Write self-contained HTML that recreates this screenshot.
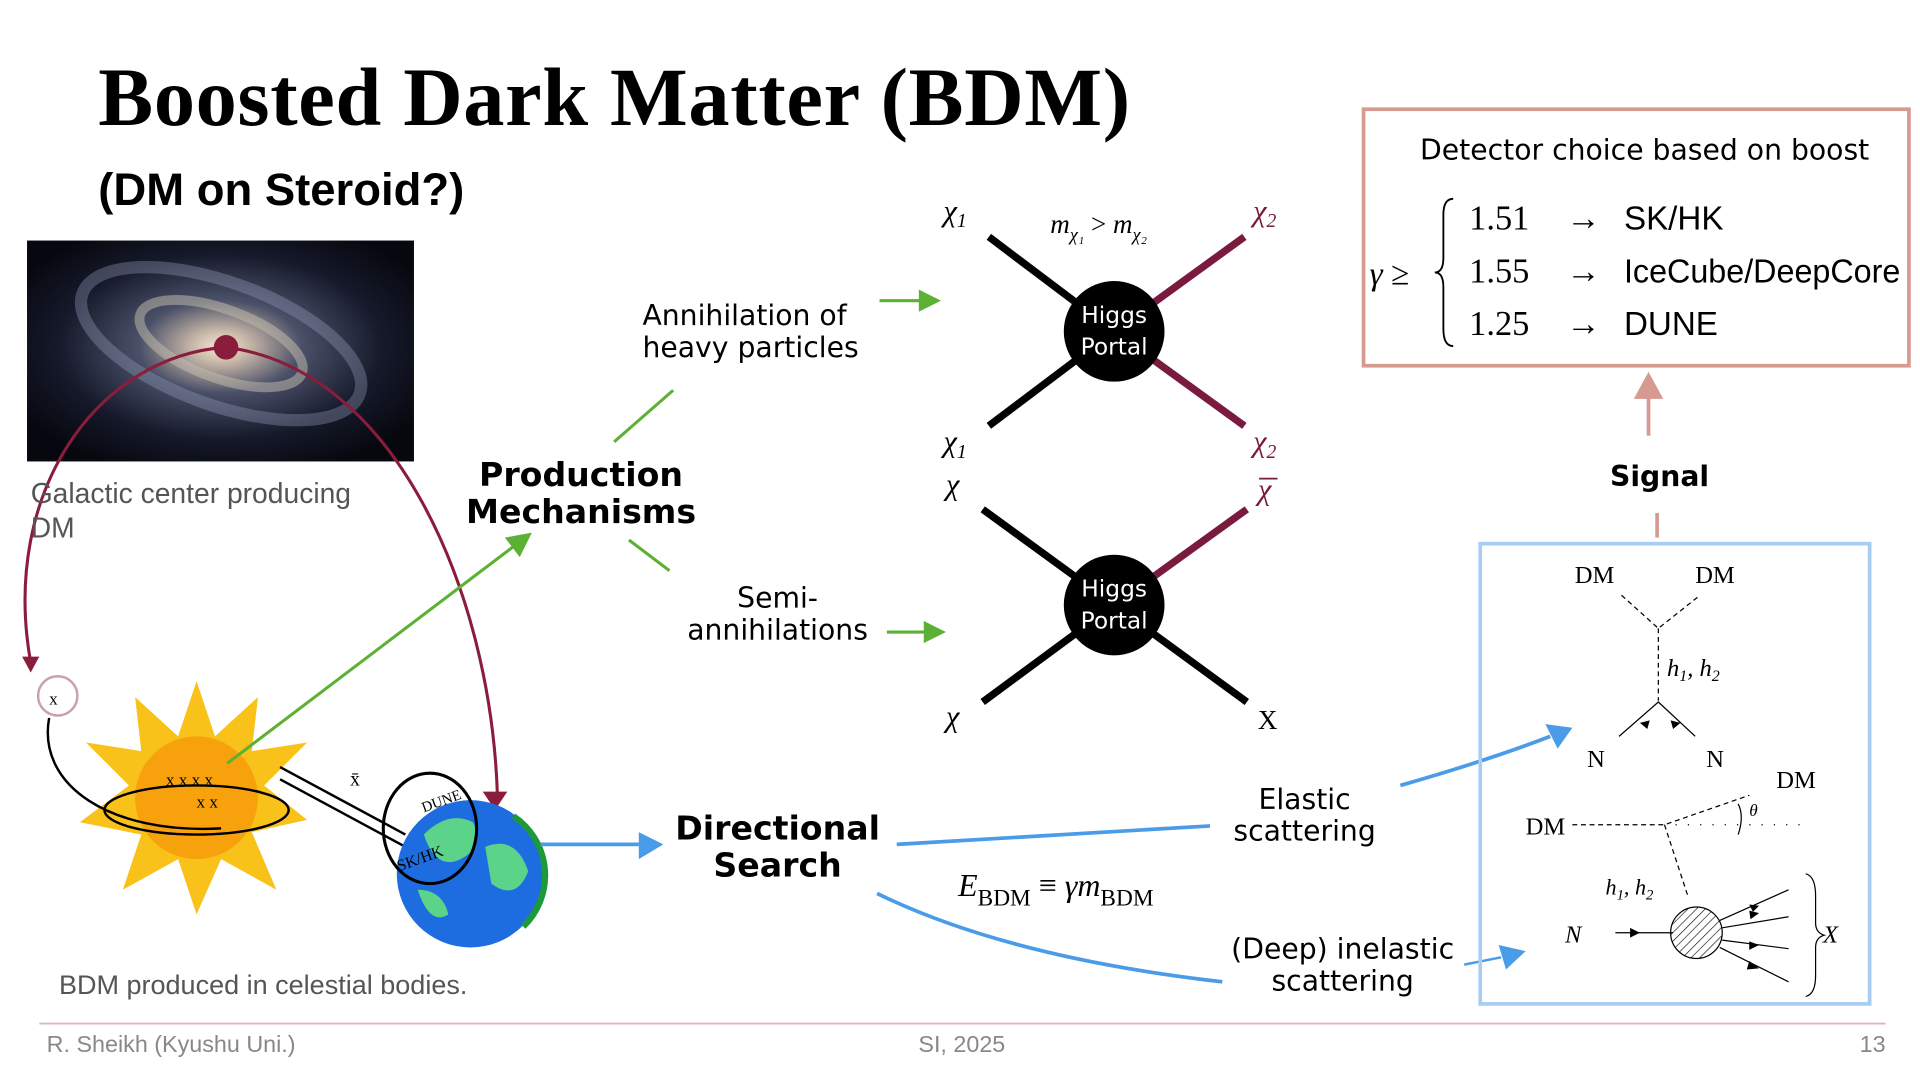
<!DOCTYPE html>
<html><head><meta charset="utf-8"><style>
html,body{margin:0;padding:0;background:#fff;overflow:hidden}
svg{display:block}
.s{font-family:"DejaVu Sans","Liberation Sans",sans-serif}
.l{font-family:"Liberation Sans",sans-serif}
.f{font-family:"Liberation Serif",serif}
</style></head><body>
<svg width="1920" height="1080" viewBox="0 0 1563 880" preserveAspectRatio="none" xmlns="http://www.w3.org/2000/svg">
<defs>
<radialGradient id="gal" cx="50%" cy="48%" r="60%">
<stop offset="0" stop-color="#f4e8d8"/><stop offset="0.12" stop-color="#c9b8a8"/><stop offset="0.35" stop-color="#4a5068"/><stop offset="0.7" stop-color="#15192a"/><stop offset="1" stop-color="#07080f"/></radialGradient>
<pattern id="hatch" width="5" height="5" patternUnits="userSpaceOnUse" patternTransform="rotate(45)"><line x1="0" y1="0" x2="0" y2="5" stroke="#000" stroke-width="1"/></pattern>
<marker id="ag" markerWidth="8" markerHeight="8" refX="4" refY="4" orient="auto"><path d="M0,0L8,4L0,8z" fill="#5cb135"/></marker>
</defs>
<text x="80" y="102" class="f" font-size="67" font-weight="bold" textLength="840">Boosted Dark Matter (BDM)</text>
<text x="80" y="167" class="l" font-size="37" font-weight="bold">(DM on Steroid?)</text>
<!-- galaxy -->
<rect x="22" y="196" width="315" height="180" fill="url(#gal)"/>
<ellipse cx="180" cy="280" rx="120" ry="50" fill="none" stroke="#9aa3c0" stroke-width="10" opacity="0.35" transform="rotate(20 180 280)"/>
<ellipse cx="180" cy="280" rx="70" ry="28" fill="none" stroke="#c8bfb0" stroke-width="8" opacity="0.5" transform="rotate(20 180 280)"/>
<circle cx="184" cy="283" r="10" fill="#8a1c3c"/>
<path d="M184,283 C80,290 0,400 25,540" fill="none" stroke="#8a1c3c" stroke-width="2.5"/>
<path d="M184,283 C320,300 400,480 405,650" fill="none" stroke="#8a1c3c" stroke-width="2.5"/>
<path d="M18,535 L32,535 L25,548z" fill="#8a1c3c"/>
<path d="M393,645 L413,645 L403,660z" fill="#8a1c3c"/>
<text x="25" y="410" class="l" font-size="23" fill="#555">Galactic center producing</text>
<text x="25" y="438" class="l" font-size="23" fill="#555">DM</text>
<circle cx="47" cy="567" r="16" fill="none" stroke="#c9a0b0" stroke-width="2"/>
<text x="40" y="574" font-size="14">x</text>
<!-- sun -->
<polygon points="160,555 175,600 210,568 205,612 250,605 215,640 250,668 205,678 225,725 180,700 160,745 145,700 100,725 115,680 65,670 105,640 70,605 115,612 110,568 145,600" fill="#f8c21a"/>
<circle cx="160" cy="650" r="50" fill="#f7a20c"/>
<text x="135" y="640" font-size="14">x x x x</text>
<text x="160" y="658" font-size="14">x x</text>
<ellipse cx="160" cy="660" rx="75" ry="20" fill="none" stroke="#000" stroke-width="2"/>
<path d="M40,585 C30,640 90,680 180,675" fill="none" stroke="#000" stroke-width="2"/>
<path d="M185,622 L425,440" stroke="#5cb135" stroke-width="2.5" marker-end="url(#ag)"/>
<path d="M228,625 L330,680 M228,635 L330,690" stroke="#000" stroke-width="2"/>
<text x="285" y="640" font-size="16">x̄</text>
<!-- earth -->
<circle cx="383" cy="712" r="60" fill="#1e6de0"/>
<path d="M345,680 q20,-20 40,-10 q10,20 -10,30 q-20,10 -30,-20z M395,690 q25,-10 35,20 q-10,25 -30,10z M340,725 q20,0 25,20 q-15,10 -25,-20z" fill="#5bd48a"/>
<path d="M418,665 a58,58 0 0 1 8,90" stroke="#1c9a3a" stroke-width="5" fill="none"/>
<ellipse cx="350" cy="675" rx="38" ry="45" fill="none" stroke="#000" stroke-width="2.5"/>
<text x="345" y="662" font-size="12" transform="rotate(-20 345 662)">DUNE</text>
<text x="325" y="710" font-size="13" transform="rotate(-20 325 710)">SK/HK</text>
<path d="M440,688 L520,688" stroke="#4a9be8" stroke-width="3"/>
<path d="M520,678 L540,688 L520,700z" fill="#4a9be8"/>
<text x="48" y="810" class="l" font-size="22" fill="#555">BDM produced in celestial bodies.</text>
<!-- production -->
<text x="473" y="396" text-anchor="middle" class="s" font-size="27" font-weight="bold">Production</text>
<text x="473" y="426" text-anchor="middle" class="s" font-size="27" font-weight="bold">Mechanisms</text>
<path d="M500,360 L548,318" stroke="#5cb135" stroke-width="2.5"/>
<path d="M512,440 L545,465" stroke="#5cb135" stroke-width="2.5"/>
<text x="523" y="265" class="s" font-size="23">Annihilation of</text>
<text x="523" y="291" class="s" font-size="23">heavy particles</text>
<path d="M716,245 L752,245" stroke="#5cb135" stroke-width="2.5"/><path d="M748,236 L766,245 L748,254z" fill="#5cb135"/>
<text x="633" y="495" text-anchor="middle" class="s" font-size="23">Semi-</text>
<text x="633" y="521" text-anchor="middle" class="s" font-size="23">annihilations</text>
<path d="M722,515 L756,515" stroke="#5cb135" stroke-width="2.5"/><path d="M752,506 L770,515 L752,524z" fill="#5cb135"/>
<!-- feynman -->
<g stroke-width="6">
<line x1="805" y1="193" x2="907" y2="270" stroke="#000"/><line x1="805" y1="347" x2="907" y2="270" stroke="#000"/>
<line x1="1013" y1="193" x2="907" y2="270" stroke="#7a1a3e"/><line x1="1013" y1="347" x2="907" y2="270" stroke="#7a1a3e"/>
<line x1="800" y1="415" x2="907" y2="493" stroke="#000"/><line x1="800" y1="572" x2="907" y2="493" stroke="#000"/>
<line x1="1015" y1="415" x2="907" y2="493" stroke="#7a1a3e"/><line x1="1015" y1="572" x2="907" y2="493" stroke="#000"/>
</g>
<circle cx="907" cy="270" r="41" fill="#000"/><circle cx="907" cy="493" r="41" fill="#000"/>
<g fill="#fff" class="s" font-size="19" text-anchor="middle"><text x="907" y="263">Higgs</text><text x="907" y="289">Portal</text><text x="907" y="486">Higgs</text><text x="907" y="512">Portal</text></g>
<g class="f" font-size="25" font-style="italic">
<text x="768" y="180">χ<tspan font-size="16" dy="5">1</tspan></text>
<text x="768" y="368">χ<tspan font-size="16" dy="5">1</tspan></text>
<text x="770" y="403">χ</text><text x="770" y="592">χ</text>
<text x="1020" y="180" fill="#7a1a3e">χ<tspan font-size="16" dy="5">2</tspan></text>
<text x="1020" y="368" fill="#7a1a3e">χ<tspan font-size="16" dy="5">2</tspan></text>
<text x="1024" y="407" fill="#7a1a3e">χ</text>
<line x1="1025" y1="390" x2="1040" y2="390" stroke="#7a1a3e" stroke-width="1.5"/>
<text x="855" y="190" font-size="22">m<tspan font-size="15" dy="6">χ₁</tspan><tspan dy="-6" font-style="normal"> &gt; </tspan>m<tspan font-size="15" dy="6">χ₂</tspan></text>
</g>
<text x="1024" y="594" class="f" font-size="22">X</text>
<!-- directional -->
<text x="633" y="684" text-anchor="middle" class="s" font-size="27" font-weight="bold">Directional</text>
<text x="633" y="714" text-anchor="middle" class="s" font-size="27" font-weight="bold">Search</text>
<path d="M730,688 Q860,680 985,673" stroke="#4a9be8" stroke-width="3" fill="none"/>
<path d="M714,728 Q820,780 995,800" stroke="#4a9be8" stroke-width="3" fill="none"/>
<text x="780" y="730" class="f" font-size="26" font-style="italic">E<tspan font-size="19" dy="8" font-style="normal">BDM</tspan><tspan dy="-8" font-style="normal"> ≡ </tspan>γm<tspan font-size="19" dy="8" font-style="normal">BDM</tspan></text>
<text x="1062" y="659" text-anchor="middle" class="s" font-size="23">Elastic</text>
<text x="1062" y="685" text-anchor="middle" class="s" font-size="23">scattering</text>
<text x="1093" y="781" text-anchor="middle" class="s" font-size="23">(Deep) inelastic</text>
<text x="1093" y="807" text-anchor="middle" class="s" font-size="23">scattering</text>
<path d="M1140,640 Q1210,620 1262,600" stroke="#4a9be8" stroke-width="3" fill="none"/><path d="M1258,590 L1280,593 L1268,610z" fill="#4a9be8"/>
<path d="M1192,786 L1222,780" stroke="#4a9be8" stroke-width="2" fill="none"/><path d="M1220,770 L1242,775 L1226,790z" fill="#4a9be8"/>
<!-- detector box -->
<rect x="1110" y="89" width="444" height="209" fill="none" stroke="#d69a90" stroke-width="3"/>
<text x="1156" y="130" class="s" font-size="23">Detector choice based on boost</text>
<text x="1115" y="232" class="f" font-size="27" font-style="italic">γ <tspan font-style="normal">≥</tspan></text>
<path d="M1183,162 Q1175,162 1175,175 L1175,210 Q1175,222 1168,222 Q1175,222 1175,234 L1175,268 Q1175,282 1183,282" fill="none" stroke="#000" stroke-width="1.5"/>
<g class="f" font-size="28"><text x="1196" y="187">1.51</text><text x="1196" y="230">1.55</text><text x="1196" y="273">1.25</text>
<text x="1275" y="187">→</text><text x="1275" y="230">→</text><text x="1275" y="273">→</text></g>
<g class="l" font-size="27"><text x="1322" y="187">SK/HK</text><text x="1322" y="230" textLength="225" lengthAdjust="spacingAndGlyphs">IceCube/DeepCore</text><text x="1322" y="273">DUNE</text></g>
<path d="M1342,355 L1342,318" stroke="#d69a90" stroke-width="3"/><path d="M1330,325 L1342,303 L1354,325z" fill="#d69a90"/>
<text x="1351" y="396" text-anchor="middle" class="s" font-size="23" font-weight="bold">Signal</text>
<path d="M1349,418 L1349,438" stroke="#d69a90" stroke-width="3"/>
<!-- blue box -->
<rect x="1205" y="443" width="317" height="375" fill="none" stroke="#a8ccf2" stroke-width="3"/>
<g class="f" font-size="20">
<text x="1282" y="475">DM</text><text x="1380" y="475">DM</text>
<text x="1292" y="625">N</text><text x="1389" y="625">N</text>
<text x="1446" y="642">DM</text><text x="1242" y="680">DM</text>
<text x="1357" y="551" font-style="italic">h<tspan font-size="13" dy="4">1</tspan><tspan dy="-4">, h</tspan><tspan font-size="13" dy="4">2</tspan></text>
<text x="1307" y="729" font-style="italic" font-size="18">h<tspan font-size="12" dy="4">1</tspan><tspan dy="-4">, h</tspan><tspan font-size="12" dy="4">2</tspan></text>
<text x="1274" y="768" font-style="italic">N</text><text x="1484" y="768" font-style="italic">X</text>
<text x="1424" y="665" font-style="italic" font-size="14">θ</text>
</g>
<g stroke="#000" stroke-width="1" fill="none">
<path d="M1320,485 L1350,512 L1384,485 M1350,512 L1350,571 M1280,672 L1355,672 L1424,648 M1355,672 L1374,730" stroke-dasharray="4,3"/>
<path d="M1364,672 L1470,672" stroke-dasharray="1,9"/>
<path d="M1318,600 L1350,572 L1380,600 M1315,760 L1362,760"/>
<path d="M1415,680 Q1420,665 1415,655"/>
<path d="M1400,750 L1456,725 M1402,756 L1456,747 M1402,766 L1456,773 M1400,772 L1456,800"/>
<path d="M1470,712 Q1478,714 1478,730 L1478,752 Q1478,760 1485,762 Q1478,764 1478,772 L1478,795 Q1478,810 1470,812"/>
</g>
<g fill="#000"><path d="M1335,589 l8,-2 l-2,7z M1368,589 l-8,-2 l2,7z M1335,760 l-8,-4 v8z M1432,738 l-8,-1 l3,6z M1432,744 l-8,-2 l1,7z M1432,770 l-8,-3 l0,7z M1432,789 l-8,-6 l-2,7z"/></g>
<circle cx="1381" cy="760" r="21" fill="url(#hatch)" stroke="#000" stroke-width="1"/>
<!-- footer -->
<line x1="32" y1="834" x2="1535" y2="834" stroke="#dcb7c0" stroke-width="1.5"/>
<g class="l" font-size="19" fill="#888"><text x="38" y="857">R. Sheikh (Kyushu Uni.)</text><text x="783" y="857" text-anchor="middle">SI, 2025</text><text x="1535" y="857" text-anchor="end">13</text></g>
</svg>
</body></html>
